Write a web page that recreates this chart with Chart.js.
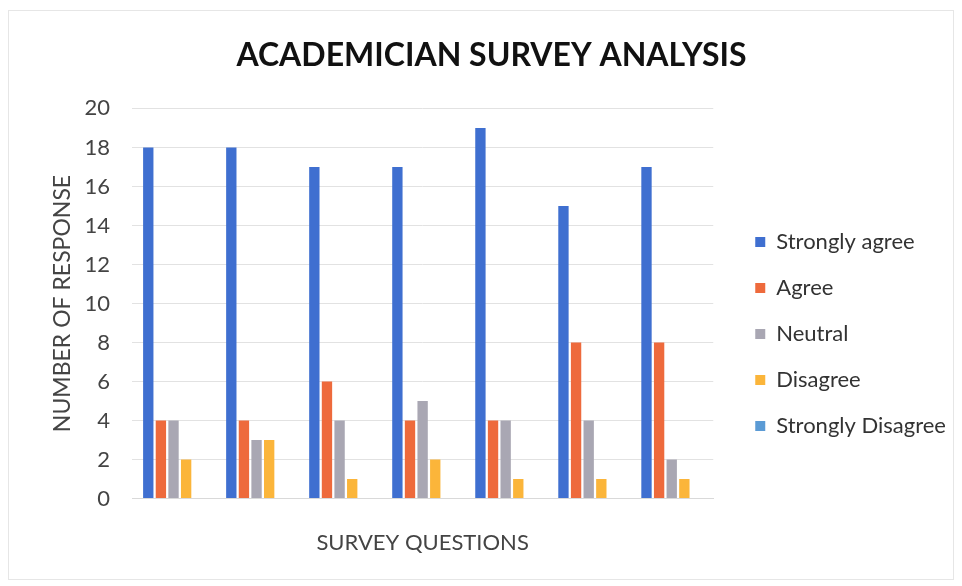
<!DOCTYPE html>
<html>
<head>
<meta charset="utf-8">
<script src="https://cdn.jsdelivr.net/npm/chart.js@4.4.1/dist/chart.umd.min.js"></script>
<style>
  html, body { margin: 0; padding: 0; background: #ffffff; }
  #wrap { position: relative; width: 962px; height: 586px; }
  #frame { position: absolute; left: 8px; top: 10px; width: 946px; height: 570px; border: 1px solid #e6e6e6; box-sizing: border-box; pointer-events: none; }
  canvas { display: block; }
</style>
</head>
<body>
<div id="wrap">
  <canvas id="c" width="962" height="586"></canvas>
  <div id="frame"></div>
</div>
<script>
const categories = ["Q1", "Q2", "Q3", "Q4", "Q5", "Q6", "Q7"];
const stronglyAgree    = [18, 18, 17, 17, 19, 15, 17];
const agree            = [4, 4, 6, 4, 4, 8, 8];
const neutral          = [4, 3, 4, 5, 4, 4, 2];
const disagree         = [2, 3, 1, 2, 1, 1, 1];
const stronglyDisagree = [0, 0, 0, 0, 0, 0, 0];
const yTicks = [0, 2, 4, 6, 8, 10, 12, 14, 16, 18, 20];

const FONT = "Lato, 'Open Sans', sans-serif";

const legendShift = {
  id: 'legendShift',
  afterLayout(chart) {
    const lg = chart.legend;
    if (!lg) return;
    const dx = 18, dy = 38;
    lg.left += dx; lg.right += dx;
    lg.top += dy; lg.bottom += dy;
    if (lg.adjustHitBoxes) lg.adjustHitBoxes();
  }
};

new Chart(document.getElementById('c'), {
  type: 'bar',
  data: {
    labels: categories,
    datasets: [
      { label: 'Strongly agree', data: stronglyAgree, backgroundColor: '#3f6fd0' },
      { label: 'Agree', data: agree, backgroundColor: '#ee6a3c' },
      { label: 'Neutral', data: neutral, backgroundColor: '#a9a7b3' },
      { label: 'Disagree', data: disagree, backgroundColor: '#fbb53a' },
      { label: 'Strongly Disagree', data: stronglyDisagree, backgroundColor: '#5b9bd5' }
    ]
  },
  plugins: [legendShift],
  options: {
    responsive: false,
    animation: false,
    layout: { padding: { left: 48, right: 27, top: 36, bottom: 30 } },
    datasets: { bar: { categoryPercentage: 0.76, barPercentage: 0.82 } },
    plugins: {
      title: {
        display: true,
        text: 'ACADEMICIAN SURVEY ANALYSIS',
        color: '#111111',
        font: { family: FONT, size: 32, weight: 'bold' },
        padding: { top: 0, bottom: 34 }
      },
      legend: {
        position: 'right',
        labels: {
          color: '#333333',
          font: { family: FONT, size: 22 },
          boxWidth: 10,
          boxHeight: 10,
          padding: 24
        }
      },
      tooltip: { enabled: false }
    },
    scales: {
      x: {
        ticks: { display: false },
        grid: { display: false },
        border: { display: true, color: '#d9d9d9' },
        title: {
          display: true,
          text: 'SURVEY QUESTIONS',
          color: '#444444',
          font: { family: FONT, size: 22 },
          padding: { top: 23, bottom: 0 }
        }
      },
      y: {
        min: 0,
        max: 20,
        afterBuildTicks: (axis) => { axis.ticks = yTicks.map(v => ({ value: v })); },
        afterFit: (axis) => { axis.width = 84; },
        ticks: {
          color: '#444444',
          font: { family: FONT, size: 22 },
          padding: 22
        },
        grid: { color: '#e2e2e2', drawTicks: false },
        border: { display: false },
        title: {
          display: true,
          text: 'NUMBER OF RESPONSE',
          color: '#444444',
          font: { family: FONT, size: 23 },
          padding: { top: 1, bottom: 6 }
        }
      }
    }
  }
});
</script>
</body>
</html>
